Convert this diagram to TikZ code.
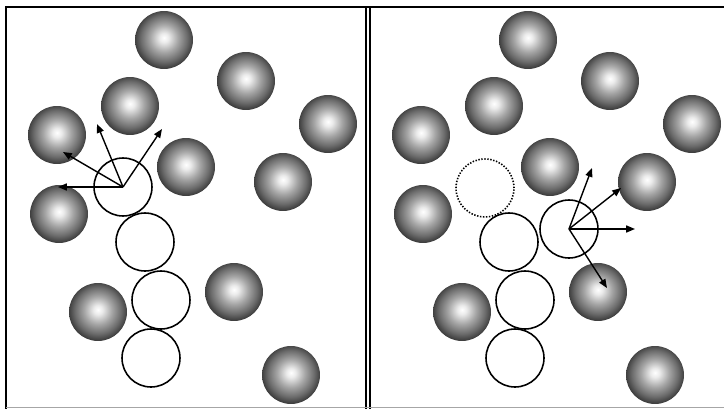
\documentclass[tikz,border=0pt]{standalone}
\usepackage{tikz}
\usetikzlibrary{arrows.meta}
\pgfdeclareradialshading{grayball}{\pgfpoint{0bp}{2bp}}{%
  color(0bp)=(white); color(4bp)=(black!8); color(12bp)=(black!35);
  color(20bp)=(black!58); color(25bp)=(black!75); color(50bp)=(black!75)}

\begin{document}
\begin{tikzpicture}[x=0.02cm,y=-0.02cm,
  ball/.style={circle, inner sep=0pt, minimum size=1.16cm, shading=grayball},
  site/.style={circle, draw, line width=0.9pt, inner sep=0pt, minimum size=1.16cm},
  vacancy/.style={site, dash pattern=on 0.8pt off 0.9pt},
  hop/.style={line width=0.8pt, -{Triangle[length=5pt,width=4pt]}},
  frame/.style={line width=1.3pt}]
\useasboundingbox (0,0) rectangle (724,409);
% panel borders
\draw[frame] (6,409) -- (6,7) -- (724,7);
\draw[line width=1.1pt] (366,7) -- (366,409) (370,7) -- (370,409);
\draw[black!35] (6,407) -- (724,407);
% the same spheres and chain in both panels
\foreach \pan/\dx in {l/0,r/364}{
  \foreach \k/\px/\py in {1/164/40,2/246/81,3/130/106,4/57/135,5/328/124,
      6/186/167,7/283/182,8/59/214,9/234/292,10/98/312,11/291/375}{
    \node[ball] (\pan-s\k) at (\px+\dx,\py) {};
  }
  \foreach \k/\px/\py in {2/145/242,3/161/300,4/151/358}{
    \node[site] (\pan-c\k) at (\px+\dx,\py) {};
  }
}
% left: head before the move
\node[site] (l-c1) at (123,187) {};
\coordinate (l-t1) at (97,124);
\coordinate (l-t2) at (162,129);
\coordinate (l-t3) at (63,152);
\coordinate (l-t4) at (58,187);
\foreach \t in {1,...,4}
  \draw[hop] (l-c1.center) -- (l-t\t);
% right: old place and new head
\node[vacancy] (r-old) at (485,188) {};
\node[site] (r-c1) at (569,229) {};
\coordinate (r-t1) at (592,168);
\coordinate (r-t2) at (621,188);
\coordinate (r-t3) at (635,229);
\coordinate (r-t4) at (607,288);
\foreach \t in {1,...,4}
  \draw[hop] (r-c1.center) -- (r-t\t);
\end{tikzpicture}
\end{document}
